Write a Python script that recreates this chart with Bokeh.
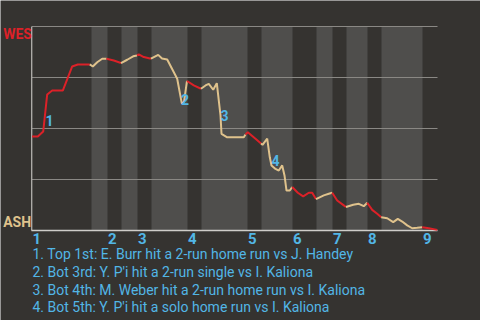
from bokeh.plotting import figure
from bokeh.models import Range1d, ColumnDataSource
from bokeh.core.properties import value
from bokeh.embed import file_html
from bokeh.resources import INLINE

# ---- data (x = game timeline position, y = WES win probability in %) ----
play_t = [0, 5.8, 11.2, 15.2, 20.2, 30.8, 40.2, 45.8, 57.8,
          60.8, 65.2, 70.2, 74.5,
          81.8, 89.0,
          95.2, 101.2, 105.0,
          106.8, 111.8, 119.0,
          126.2, 130.0, 135.2, 145.2, 149.8, 152.0, 155.0,
          161.8, 169.0,
          173.5, 176.8, 181.2, 184.8, 188.5, 189.5, 195.2, 211.8, 213.5,
          215.8, 223.5, 229.0,
          230.5, 235.2, 237.8, 239.5, 243.5, 246.8, 250.2, 252.5, 254.5, 257.8, 260.2,
          265.8, 271.2, 276.8, 280.2, 284.0,
          291.8, 296.8, 300.2,
          305.2, 311.8, 314.0,
          321.2, 326.8, 331.8, 335.2,
          340.2, 345.2, 349.2,
          355.2, 361.2, 365.8, 370.2, 375.2, 380.2, 385.2, 390.2,
          396.8, 405.2]
win_prob = [46.1, 46.1, 48.5, 66.7, 68.6, 68.6, 80.4, 81.4, 81.4,
            80.4, 82.5, 84.2, 84.2,
            83.3, 82.1,
            83.7, 85.4, 85.8,
            86.3, 85.0, 84.2,
            86.1, 84.3, 83.8, 74.4, 62.3, 63.0, 73.3,
            71.1, 69.5,
            71.1, 71.9, 69.0, 72.2, 56.4, 47.4, 45.7, 45.7, 47.1,
            48.2, 45.0, 42.6,
            42.0, 45.0, 35.9, 31.9, 30.2, 29.4, 31.9, 27.0, 19.6, 19.6, 21.3,
            18.5, 16.7, 18.5, 18.5, 15.4,
            17.2, 18.0, 18.5,
            14.7, 12.3, 11.5,
            12.6, 13.1, 11.9, 13.6,
            10.1, 8.2, 6.5,
            6.0, 4.1, 5.7, 4.4, 2.5, 1.1, 1.3, 1.6,
            1.1, 0.3]
half_inning_starts = [0, 59.5, 75.5, 89.5, 105.5, 119.5, 155.5, 169.5, 215.5,
                      229.5, 260.5, 284.5, 300.5, 314.5, 335.5, 349.5, 390.5]
game_end = 405.5
inning_labels = ["1", "2", "3", "4", "5", "6", "7", "8", "9"]
grid_levels = [25, 50, 75, 100]
event_t = [17.5, 153.0, 192.5, 243.5]
event_wp = [53.9, 64.4, 56.4, 34.1]
event_num = ["1", "2", "3", "4"]
captions = ["1. Top 1st: E. Burr hit a 2-run home run vs J. Handey",
            "2. Bot 3rd: Y. P'i hit a 2-run single vs I. Kaliona",
            "3. Bot 4th: M. Weber hit a 2-run home run vs I. Kaliona",
            "4. Bot 5th: Y. P'i hit a solo home run vs I. Kaliona"]
teams = ["WES", "ASH"]
team_wp = [100, 0]

BG = "#353330"
LIGHT = "#4f4e4c"
RED = "#dc2128"
TAN = "#dfc28c"
BLUE = "#52b6e6"
GRID = "#8a8884"
AXIS = "#cfcdc9"
FONT = "Roboto"

# layout: plot area spans 31.5..437 px horizontally and 26..230 px vertically
PX_PER_PCT = 204 / 100.0
p = figure(width=480, height=320,
           x_range=Range1d(-31.5, 448.5),
           y_range=Range1d(-90 / PX_PER_PCT, 100 + 26 / PX_PER_PCT),
           output_backend="svg", toolbar_location=None, min_border=0,
           x_axis_location=None, y_axis_location=None,
           background_fill_color=BG, border_fill_color=BG, outline_line_color=None)
p.grid.visible = False

# bottom-half inning bands
ends = half_inning_starts[1:] + [game_end]
band_l = [half_inning_starts[i] for i in range(1, len(half_inning_starts), 2)]
band_r = [ends[i] for i in range(1, len(half_inning_starts), 2)]
p.quad(left=band_l, right=band_r, bottom=0, top=100, fill_color=LIGHT, line_color=None)

# horizontal grid lines
p.segment(x0=[0] * len(grid_levels), x1=[game_end] * len(grid_levels),
          y0=grid_levels, y1=grid_levels, line_color=GRID, line_width=1)

# axis lines
p.segment(x0=[-0.3], y0=[0], x1=[-0.3], y1=[100], line_color="#b3b1ad", line_width=1.3)
p.segment(x0=[-0.5], y0=[0], x1=[game_end], y1=[0], line_color=AXIS, line_width=1.6)

# split line into half-inning segments
xs, ys, cols = [], [], []
for k, s in enumerate(half_inning_starts):
    e = ends[k]
    idx = [i for i, t in enumerate(play_t) if s <= t < e]
    if not idx:
        continue
    if idx[0] > 0:
        idx = [idx[0] - 1] + idx
    xs.append([play_t[i] for i in idx])
    ys.append([win_prob[i] for i in idx])
    cols.append(RED if k % 2 == 0 else TAN)
p.multi_line(xs=xs, ys=ys, line_color=cols, line_width=2)

# event markers
src = ColumnDataSource(dict(x=event_t, y=event_wp, t=event_num))
p.text(x="x", y="y", text="t", source=src, text_color=BLUE, text_font=value(FONT),
       text_font_style="bold", text_font_size="14px", text_align="center", text_baseline="middle")

# inning numbers under the axis
inn_src = ColumnDataSource(dict(x=half_inning_starts[0::2], t=inning_labels))
p.text(x="x", y=-8.3 / PX_PER_PCT, text="t", source=inn_src, text_color=BLUE,
       text_font=value(FONT), text_font_style="bold", text_font_size="15px",
       text_align="left", text_baseline="middle", x_offset=0.5)

# team labels
team_src = ColumnDataSource(dict(x=[-28.8, -28.8], y=team_wp, t=teams, c=[RED, TAN],
                                 yo=[7.3, -8.7]))
p.text(x="x", y="y", text="t", source=team_src, text_color="c", text_font=value(FONT),
       text_font_style="bold", text_font_size="14px", text_align="left",
       text_baseline="middle", y_offset="yo")

# captions
cap_src = ColumnDataSource(dict(x=[0.5] * 4, t=captions,
                                y=[-(253 - 230) / PX_PER_PCT, -(271 - 230) / PX_PER_PCT,
                                   -(289 - 230) / PX_PER_PCT, -(306.5 - 230) / PX_PER_PCT]))
p.text(x="x", y="y", text="t", source=cap_src, text_color=BLUE, text_font=value(FONT),
       text_font_size="14px", text_align="left", text_baseline="middle")

open("out.html", "w").write(file_html(p, INLINE))
